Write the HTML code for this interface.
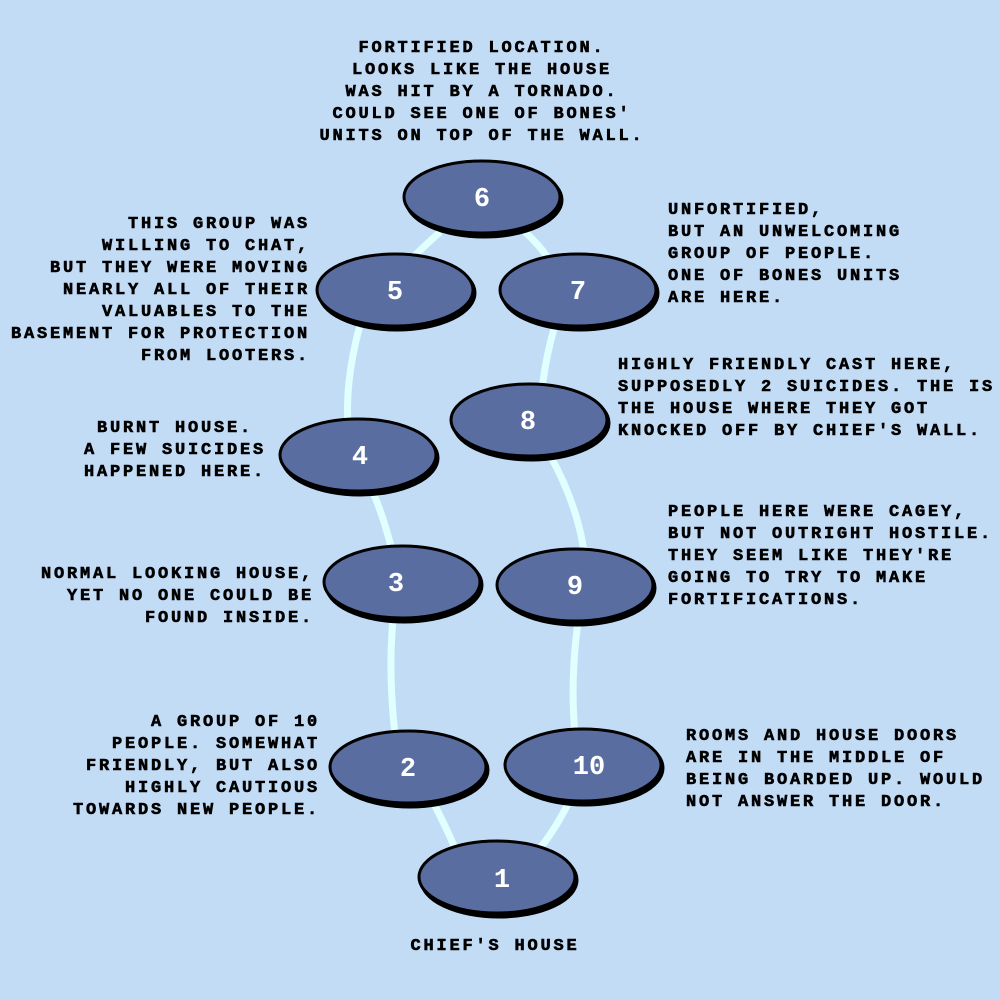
<!DOCTYPE html>
<html><head><style>
body{margin:0;background:#c3dcf5;}
#w{position:relative;width:1000px;height:1000px;overflow:hidden;background:#c3dcf5;}
.t{position:absolute;font-family:"Liberation Mono",monospace;font-weight:bold;font-size:17px;letter-spacing:2.8px;line-height:22px;color:#000;white-space:pre;-webkit-text-stroke:0.6px #000;}
.r{text-align:right}.c{text-align:center}
svg{position:absolute;left:0;top:0}
</style></head><body><div id="w">
<svg width="1000" height="1000">
<g fill="none" stroke="#e0ffff" stroke-width="7">
<path d="M440 232 Q420 250 405 265"/>
<path d="M525 232 Q545 250 555 270"/>
<path d="M360 325 Q345 380 348 425"/>
<path d="M555 325 Q545 360 542 390"/>
<path d="M372 490 Q385 520 393 555"/>
<path d="M550 455 Q580 510 585 560"/>
<path d="M393 620 Q388 670 395 735"/>
<path d="M578 622 Q570 680 575 735"/>
<path d="M432 800 Q445 825 455 848"/>
<path d="M570 800 Q555 830 540 848"/>
</g>
<g stroke="#000" stroke-width="3" fill="#5a6da0">
<ellipse cx="484" cy="200" rx="78" ry="37" fill="#000"/><ellipse cx="482" cy="197" rx="78" ry="36"/>
<ellipse cx="397" cy="293" rx="78" ry="37" fill="#000"/><ellipse cx="395" cy="290" rx="78" ry="36"/>
<ellipse cx="580" cy="293" rx="78" ry="37" fill="#000"/><ellipse cx="578" cy="290" rx="78" ry="36"/>
<ellipse cx="531" cy="423" rx="78" ry="37" fill="#000"/><ellipse cx="529" cy="420" rx="78" ry="36"/>
<ellipse cx="360" cy="458" rx="78" ry="37" fill="#000"/><ellipse cx="358" cy="455" rx="78" ry="36"/>
<ellipse cx="404" cy="585" rx="78" ry="37" fill="#000"/><ellipse cx="402" cy="582" rx="78" ry="36"/>
<ellipse cx="577" cy="588" rx="78" ry="37" fill="#000"/><ellipse cx="575" cy="585" rx="78" ry="36"/>
<ellipse cx="410" cy="770" rx="78" ry="37" fill="#000"/><ellipse cx="408" cy="767" rx="78" ry="36"/>
<ellipse cx="585" cy="768" rx="78" ry="37" fill="#000"/><ellipse cx="583" cy="765" rx="78" ry="36"/>
<ellipse cx="499" cy="880" rx="78" ry="37" fill="#000"/><ellipse cx="497" cy="877" rx="78" ry="36"/>
</g>
<g font-family="Liberation Mono,monospace" font-weight="bold" font-size="27" fill="#fff" text-anchor="middle">
<text x="482" y="206">6</text><text x="395" y="299">5</text><text x="578" y="299">7</text>
<text x="528" y="429">8</text><text x="360" y="464">4</text><text x="396" y="591">3</text>
<text x="575" y="594">9</text><text x="408" y="776">2</text><text x="589" y="774">10</text>
<text x="502" y="887">1</text>
</g>
</svg>
<div class="t c" style="left:282px;width:400px;top:38px">FORTIFIED LOCATION.
LOOKS LIKE THE HOUSE
WAS HIT BY A TORNADO.
COULD SEE ONE OF BONES'
UNITS ON TOP OF THE WALL.</div>
<div class="t r" style="right:690px;top:214px">THIS GROUP WAS
WILLING TO CHAT,
BUT THEY WERE MOVING
NEARLY ALL OF THEIR
VALUABLES TO THE
BASEMENT FOR PROTECTION
FROM LOOTERS.</div>
<div class="t" style="left:668px;top:200px">UNFORTIFIED,
BUT AN UNWELCOMING
GROUP OF PEOPLE.
ONE OF BONES UNITS
ARE HERE.</div>
<div class="t" style="left:618px;top:355px">HIGHLY FRIENDLY CAST HERE,
SUPPOSEDLY 2 SUICIDES. THE IS
THE HOUSE WHERE THEY GOT
KNOCKED OFF BY CHIEF'S WALL.</div>
<div class="t c" style="left:75px;width:200px;top:418px">BURNT HOUSE.
A FEW SUICIDES
HAPPENED HERE.</div>
<div class="t r" style="right:686px;top:564px">NORMAL LOOKING HOUSE,
YET NO ONE COULD BE
FOUND INSIDE.</div>
<div class="t" style="left:668px;top:502px">PEOPLE HERE WERE CAGEY,
BUT NOT OUTRIGHT HOSTILE.
THEY SEEM LIKE THEY'RE
GOING TO TRY TO MAKE
FORTIFICATIONS.</div>
<div class="t r" style="right:680px;top:712px">A GROUP OF 10
PEOPLE. SOMEWHAT
FRIENDLY, BUT ALSO
HIGHLY CAUTIOUS
TOWARDS NEW PEOPLE.</div>
<div class="t" style="left:686px;top:726px">ROOMS AND HOUSE DOORS
ARE IN THE MIDDLE OF
BEING BOARDED UP. WOULD
NOT ANSWER THE DOOR.</div>
<div class="t c" style="left:345px;width:300px;top:936px">CHIEF'S HOUSE</div>
</div></body></html>
